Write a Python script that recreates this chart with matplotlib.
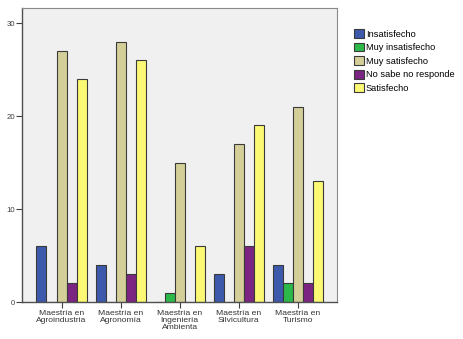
import matplotlib.pyplot as plt
import numpy as np

plt.rcParams['font.family'] = ['Liberation Sans', 'DejaVu Sans']

programas = ['Maestría en\nAgroindustria', 'Maestría en\nAgronomía',
             'Maestría en\nIngeniería\nAmbienta', 'Maestría en\nSilvicultura',
             'Maestría en\nTurismo']
respuestas = ['Insatisfecho', 'Muy insatisfecho', 'Muy satisfecho',
              'No sabe no responde', 'Satisfecho']
insatisfecho = [6, 4, 0, 3, 4]
muy_insatisfecho = [0, 0, 1, 0, 2]
muy_satisfecho = [27, 28, 15, 17, 21]
no_sabe = [2, 3, 0, 6, 2]
satisfecho = [24, 26, 6, 19, 13]
colores = ['#3d59ab', '#2db84a', '#d4cf98', '#7c2481', '#fbf874']

series = [insatisfecho, muy_insatisfecho, muy_satisfecho, no_sabe, satisfecho]

fig = plt.figure(figsize=(4.63, 3.39), dpi=100)
ax = fig.add_axes([0.0475, 0.109, 0.681, 0.867])
ax.set_facecolor('#f0f0f0')

x = np.arange(len(programas))
w = 0.17
for i, (vals, nombre, c) in enumerate(zip(series, respuestas, colores)):
    ax.bar(x + (i - 2) * w, vals, width=w, color=c, edgecolor='#3a3a3a',
           linewidth=0.8, label=nombre)

ax.set_xlim(-0.67, 4.67)
ax.set_ylim(0, 31.6)
ax.set_yticks([0, 10, 20, 30])
ax.set_xticks(x)
ax.set_xticklabels(programas, fontsize=6.1, linespacing=1.0, color='#333333')
ax.tick_params(axis='y', labelsize=5.6, length=4, width=0.8, pad=1,
               labelcolor='#404040', color='#404040')
ax.tick_params(axis='x', length=4, width=0.8, pad=2, color='#404040')
for s in ['top', 'right']:
    ax.spines[s].set_color('#8a8a8a')
for s in ['left', 'bottom']:
    ax.spines[s].set_color('#505050')
    ax.spines[s].set_linewidth(1.0)

leg = fig.legend(loc='upper left', bbox_to_anchor=(0.757, 0.925), frameon=False,
                 fontsize=6.7, handlelength=1.05, handleheight=1.05,
                 handletextpad=0.2, labelspacing=0.44, borderaxespad=0)

plt.savefig('out.png', dpi=100)
